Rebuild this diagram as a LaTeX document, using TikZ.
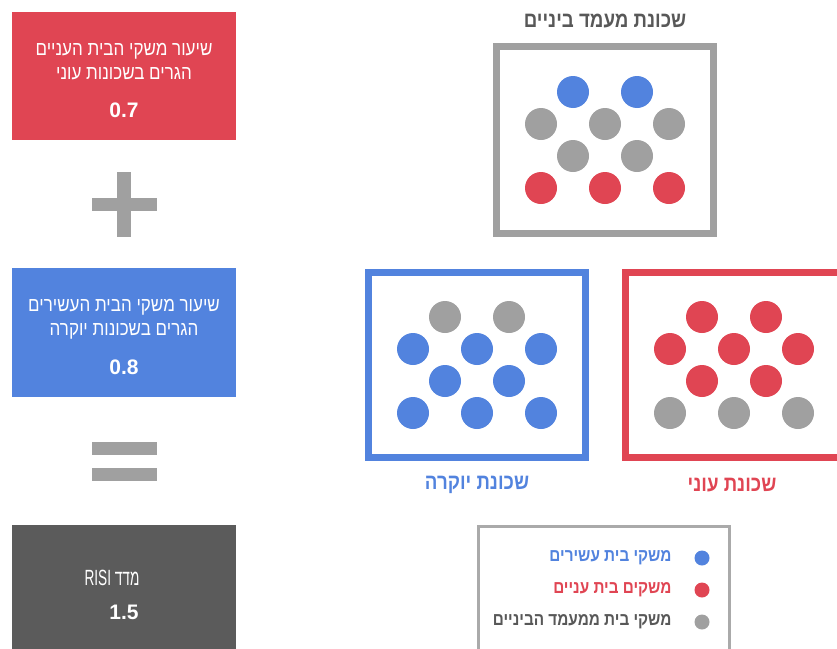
\documentclass[tikz,border=0pt]{standalone}
\usepackage{fontspec}
\setmainfont{Liberation Sans}
\newfontfamily\hebfont[Script=Hebrew, FakeStretch=0.85]{Liberation Sans}
\newfontfamily\condfont[Script=Hebrew, FakeStretch=0.62]{Liberation Sans}
\TeXXeTstate=1
\usetikzlibrary{calc}
\definecolor{poorred}{RGB}{224,69,83}
\definecolor{richblue}{RGB}{82,131,222}
\definecolor{midgray}{RGB}{160,160,160}
\definecolor{sumgray}{RGB}{91,91,91}
\definecolor{captiongray}{RGB}{88,88,88}
\definecolor{keyframe}{RGB}{170,170,170}
\newcommand{\hebline}[1]{{\hebfont\beginR #1\endR}}
\tikzset{
    risi diagram/.style = {x=1pt, y=-1pt},
    ratebox/.style      = {fill, minimum width=224pt, minimum height=128pt,
                           inner sep=0pt},
    ratetext/.style     = {text=white, align=center,
                           font=\fontsize{20}{24}\selectfont},
    ratenum/.style      = {text=white, font=\bfseries\fontsize{21}{24}\selectfont},
    sign/.style         = {fill=midgray},
    hood/.style         = {draw, line width=7pt, minimum width=217pt,
                           minimum height=187pt, inner sep=0pt},
    hoodname/.style     = {font=\bfseries\fontsize{22}{26}\selectfont},
    dweller/.style      = {circle, inner sep=0pt, minimum size=32pt},
    keydot/.style       = {circle, inner sep=0pt, minimum size=15pt},
    keytext/.style      = {anchor=east, font=\bfseries\fontsize{18}{20}\selectfont}
}

\begin{document}
\begin{tikzpicture}[risi diagram]
\useasboundingbox (0,0) rectangle (837,648);

% Left column: the two rates, added up into the index
\node[ratebox, poorred] (poorrate) at (124,76) {};
\node[ratetext] (poorratetxt) at (124,62)
    {\hebline{שיעור משקי הבית העניים}\\\hebline{הגרים בשכונות עוני}};
\node[ratenum] (poorratenum) at (124,110) {0.7};

\fill[sign] (92,198) rectangle (157,211);
\fill[sign] (117,172) rectangle (131,237);

\node[ratebox, richblue, minimum height=129pt] (richrate) at (124,332.5) {};
\node[ratetext] (richratetxt) at (124,319)
    {\hebline{שיעור משקי הבית העשירים}\\\hebline{הגרים בשכונות יוקרה}};
\node[ratenum] (richratenum) at (124,367) {0.8};

\fill[sign] (92,442) rectangle (157,455);
\fill[sign] (92,468) rectangle (157,481);

\node[ratebox, sumgray, minimum height=140pt] (risi) at (124,595) {};
\node[text=white, font=\fontsize{22}{24}\selectfont] (risitxt) at (112,578)
    {{\condfont\beginR מדד \beginL RISI\endL\endR}};
\node[ratenum] (risinum) at (124,612) {1.5};

% Neighbourhoods
\node[hood, midgray] (mid) at (605,140) {};
\node[hood, richblue, minimum height=185pt] (rich) at (477,365) {};
\node[hood, poorred, minimum height=185pt] (poor) at (734,365) {};

\node[hoodname, text=captiongray] (midname) at (605,21)
    {\hebline{שכונת מעמד ביניים}};
\node[hoodname, text=richblue] (richname) at (477,485)
    {\hebline{שכונת יוקרה}};
\node[hoodname, text=poorred] (poorname) at (732,485)
    {\hebline{שכונת עוני}};

% Households, row by row (rows of 2 and 3 alternate)
\foreach \hood/\ca/\cb/\cc/\cd in {mid/richblue/midgray/midgray/poorred,
        rich/midgray/richblue/richblue/richblue,
        poor/poorred/poorred/poorred/midgray} {
    \foreach \dx [count=\i] in {-32,32} {
        \node[dweller, fill=\ca] (\hood-a\i) at ($(\hood)+(\dx,-48)$) {};
        \node[dweller, fill=\cc] (\hood-c\i) at ($(\hood)+(\dx,16)$) {};
    }
    \foreach \dx [count=\i] in {-64,0,64} {
        \node[dweller, fill=\cb] (\hood-b\i) at ($(\hood)+(\dx,-16)$) {};
        \node[dweller, fill=\cd] (\hood-d\i) at ($(\hood)+(\dx,48)$) {};
    }
}

% Legend
\node[draw=keyframe, line width=3pt, minimum width=251pt, minimum height=147pt,
      inner sep=0pt] (key) at (604,600) {};
\foreach \dot/\col/\txt [count=\i] in {richblue/richblue/משקי בית עשירים,
        poorred/poorred/משקים בית עניים,
        midgray/captiongray/משקי בית ממעמד הביניים} {
    \node[keydot, fill=\dot] (keydot\i) at (702,526+32*\i) {};
    \node[keytext, text=\col] (keytxt\i) at (675,526+32*\i) {\hebline{\txt}};
}

\end{tikzpicture}
\end{document}
